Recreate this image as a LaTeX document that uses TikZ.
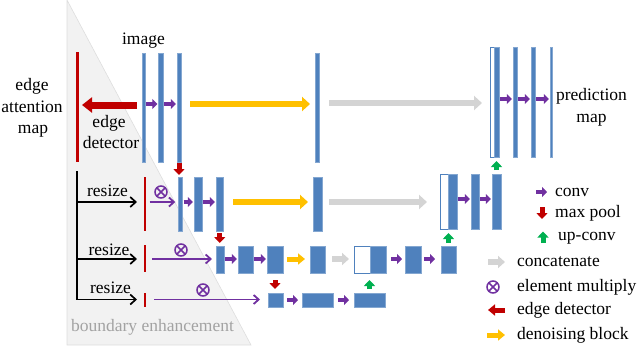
\documentclass[tikz,border=0pt]{standalone}
\usepackage{fontspec}
\setmainfont{Liberation Serif}
\usetikzlibrary{arrows.meta}
\definecolor{barblue}{HTML}{4F81BD}
\definecolor{cpurple}{HTML}{7030A0}
\definecolor{cred}{HTML}{C00000}
\definecolor{cyellow}{HTML}{FFC000}
\definecolor{cgrey}{HTML}{D4D4D4}
\definecolor{cgreen}{HTML}{00B050}
\definecolor{trifill}{HTML}{F2F2F2}
\definecolor{triline}{HTML}{DDDDDD}
\definecolor{btext}{HTML}{A3A3A3}
\newcommand\mybar[5]{\node[bar,minimum width={#3-#2},minimum height={#5-#4}] (#1) at ({(#2+#3)/2},{(#4+#5)/2}) {};}
\newcommand\mywbox[5]{\node[wbox,minimum width={#3-#2},minimum height={#5-#4}] (#1) at ({(#2+#3)/2},{(#4+#5)/2}) {};}
\newcommand\myredbar[5]{\node[redbar,minimum width={#3-#2},minimum height={#5-#4}] (#1) at ({(#2+#3)/2},{(#4+#5)/2}) {};}
\begin{document}
\begin{tikzpicture}[x=1pt,y=-1pt,
  txt/.style={font=\fontsize{17.5}{21}\selectfont, inner sep=0pt},
  bar/.style={rectangle, fill=barblue, draw=barblue!70!white, line width=0.5pt, inner sep=0pt, outer sep=0pt},
  wbox/.style={rectangle, fill=white, draw=barblue, line width=0.7pt, inner sep=0pt, outer sep=0pt},
  redbar/.style={rectangle, fill=cred, draw=none, inner sep=0pt, outer sep=0pt},
  conv/.style={draw=cpurple, line width=4.5pt, -{Triangle[length=5pt,width=10pt]}, shorten <=1pt, shorten >=1.2pt},
  pool/.style={draw=cred, line width=5pt, -{Triangle[length=6pt,width=11pt]}},
  upconv/.style={draw=cgreen, line width=5pt, -{Triangle[length=6pt,width=11pt]}},
  denoise/.style={draw=cyellow, line width=6pt, -{Triangle[length=8pt,width=14pt]}},
  denoisesm/.style={draw=cyellow, line width=5pt, -{Triangle[length=7pt,width=11pt]}},
  concat/.style={draw=cgrey, line width=6pt, -{Triangle[length=8pt,width=14pt]}},
  concatsm/.style={draw=cgrey, line width=5.5pt, -{Triangle[length=7pt,width=12pt]}},
  edgearr/.style={draw=cred, line width=7pt, -{Triangle[length=10pt,width=15pt]}},
  edgearrsm/.style={draw=cred, line width=5pt, -{Triangle[length=7pt,width=11pt]}},
  mularr/.style={draw=cpurple, line width=1.8pt, -{Straight Barb[length=5pt,width=9pt]}},
  resarr/.style={draw=black, line width=1.7pt, -{Straight Barb[length=5.5pt,width=10pt]}},
  mult/.style={circle, draw=cpurple, line width=1.5pt, minimum size=12pt, inner sep=0pt,
    path picture={\draw[cpurple, line width=1.5pt] (path picture bounding box.north west) -- (path picture bounding box.south east) (path picture bounding box.north east) -- (path picture bounding box.south west);}}
]
\useasboundingbox (0,0) rectangle (640,346);
% boundary enhancement region
\fill[trifill] (67,0) -- (251,345) -- (67,345) -- cycle;
\draw[triline, line width=0.6pt] (67,0) -- (251,345) -- (67,345) -- cycle;
\node[txt, anchor=base, text=btext] (be) at (152.5,331.5) {boundary enhancement};

% texts
\node[txt, anchor=base] (timg) at (143.5,44) {image};
\node[txt, anchor=base] (ea1) at (32,90) {edge};
\node[txt, anchor=base] (ea2) at (32,112.5) {attention};
\node[txt, anchor=base] (ea3) at (33,133.5) {map};
\node[txt, anchor=base] (ed1) at (109,127.5) {edge};
\node[txt, anchor=base] (ed2) at (111,148.5) {detector};
\node[txt, anchor=base] (pm1) at (591.5,100.5) {prediction};
\node[txt, anchor=base] (pm2) at (591.5,122.5) {map};
\node[txt, anchor=base] (rs2) at (107.5,196.5) {resize};
\node[txt, anchor=base] (rs3) at (109,255) {resize};
\node[txt, anchor=base] (rs4) at (110.5,293) {resize};

% red bars
\myredbar{ra}{76}{78.5}{52}{162}
\myredbar{r2}{143.5}{146}{177}{231}
\myredbar{r3}{143.5}{146}{245}{272}
\myredbar{r4}{143.5}{146}{293}{307}

% level 1
\mybar{e1a}{142.5}{145}{53}{162}
\mybar{e1b}{158.5}{163}{53}{162}
\mybar{e1c}{177}{181}{53}{162}
\mybar{e1d}{315.5}{319.5}{53}{162}
\mywbox{d1w}{490}{494.5}{47}{157}
\mybar{d1a}{494.5}{499}{47}{157}
\mybar{d1b}{513}{517}{47}{157}
\mybar{d1c}{531}{535}{47}{157}
\mybar{d1d}{550}{552.5}{47}{157}
% level 2
\mybar{e2a}{178.3}{182.7}{177}{231}
\mybar{e2b}{194}{202}{177}{231}
\mybar{e2c}{216}{223.5}{177}{231}
\mybar{e2d}{313}{322}{177}{231}
\mywbox{d2w}{440}{448}{174}{229}
\mybar{d2a}{448}{457}{174}{229}
\mybar{d2b}{471}{479}{174}{229}
\mybar{d2c}{492}{501}{174}{229}
% level 3
\mybar{e3a}{216}{224}{246}{273}
\mybar{e3b}{238}{253}{246}{273}
\mybar{e3c}{267}{283}{246}{273}
\mybar{e3d}{310}{325}{246}{273}
\mywbox{d3w}{354}{370}{246}{273}
\mybar{d3a}{370}{386}{246}{273}
\mybar{d3b}{405}{421}{246}{273}
\mybar{d3c}{441}{456}{246}{273}
% level 4
\mybar{e4a}{268}{283}{293}{307}
\mybar{e4b}{302}{333}{293}{307}
\mybar{d4}{354}{385}{293}{307}

% level 1 arrows
\draw[conv] (e1a.east |- 0,104) -- (e1b.west |- 0,104);
\draw[conv] (e1b.east |- 0,104) -- (e1c.west |- 0,104);
\draw[denoise, shorten <=9pt, shorten >=5.5pt] (e1c.east |- 0,104) -- (e1d.west |- 0,104);
\draw[concat, shorten <=9.5pt, shorten >=8pt] (e1d.east |- 0,103) -- (d1w.west |- 0,103);
\draw[conv] (d1a.east |- 0,99) -- (d1b.west |- 0,99);
\draw[conv] (d1b.east |- 0,99) -- (d1c.west |- 0,99);
\draw[conv] (d1c.east |- 0,99) -- (d1d.west |- 0,99);
\draw[edgearr, shorten <=5.5pt, shorten >=3.5pt] (e1a.west |- 0,105) -- (ra.east |- 0,105);
\draw[pool, shorten <=1pt, shorten >=2pt] (e1c.south) -- (e1c.south |- e2a.north);

% level 2 arrows
\draw[mularr, shorten <=3.5pt, shorten >=3pt] (r2.east |- 0,202) -- (e2a.west |- 0,202);
\node[mult] (m2) at (161,192) {};
\draw[conv] (e2a.east |- 0,202) -- (e2b.west |- 0,202);
\draw[conv] (e2b.east |- 0,202) -- (e2c.west |- 0,202);
\draw[denoise, shorten <=9.5pt, shorten >=5pt] (e2c.east |- 0,202) -- (e2d.west |- 0,202);
\draw[concat, shorten <=7pt, shorten >=13pt] (e2d.east |- 0,202) -- (d2w.west |- 0,202);
\draw[conv] (d2a.east |- 0,199) -- (d2b.west |- 0,199);
\draw[conv] (d2b.east |- 0,199) -- (d2c.west |- 0,199);
\draw[upconv, shorten <=4pt, shorten >=4pt] (d2c.north) -- (d2c.north |- d1a.south);
\draw[pool, shorten <=2pt, shorten >=3pt] (e2c.south) -- (e2c.south |- e3a.north);

% level 3 arrows
\draw[mularr, shorten <=6pt, shorten >=4pt] (r3.east |- 0,259) -- (e3a.west |- 0,259);
\node[mult] (m3) at (181,250) {};
\draw[conv] (e3a.east |- 0,259) -- (e3b.west |- 0,259);
\draw[conv] (e3b.east |- 0,259) -- (e3c.west |- 0,259);
\draw[denoisesm, shorten <=4pt, shorten >=5pt] (e3c.east |- 0,259) -- (e3d.west |- 0,259);
\draw[concatsm, shorten <=7pt, shorten >=5pt] (e3d.east |- 0,259) -- (d3w.west |- 0,259);
\draw[conv, shorten <=5pt, shorten >=3pt] (d3a.east |- 0,259) -- (d3b.west |- 0,259);
\draw[conv, shorten <=3pt, shorten >=6pt] (d3b.east |- 0,259) -- (d3c.west |- 0,259);
\draw[upconv, shorten <=3pt, shorten >=4pt] (d3c.north) -- (d3c.north |- d2a.south);
\draw[pool, shorten <=7pt, shorten >=4pt] (e3c.south) -- (e3c.south |- e4a.north);

% level 4 arrows
\draw[mularr, shorten <=8pt, shorten >=8pt] (r4.east |- 0,299.5) -- (e4a.west |- 0,299.5);
\node[mult] (m4) at (203,290) {};
\draw[conv, shorten <=4pt, shorten >=4pt] (e4a.east |- 0,300) -- (e4b.west |- 0,300);
\draw[conv, shorten <=5pt, shorten >=5pt] (e4b.east |- 0,300) -- (d4.west |- 0,300);
\draw[upconv, shorten <=4pt, shorten >=7pt] (d4.north) -- (d4.north |- d3a.south);

% resize
\coordinate (rtop) at (77,171);
\coordinate (rbot) at (77,299.5);
\draw[line width=1.7pt] (rtop) -- (rbot);
\draw[resarr, shorten >=6.5pt] (rtop |- 0,202) -- (r2.west |- 0,202);
\draw[resarr, shorten >=6.5pt] (rtop |- 0,259) -- (r3.west |- 0,259);
\draw[resarr, shorten >=6.5pt] (rbot) -- (r4.west |- rbot);

% legend
\node[txt, anchor=base west] (lconv) at (555,196.5) {conv};
\node[txt, anchor=base west] (lpool) at (555,217) {max pool};
\node[txt, anchor=base west] (lup) at (558,240.5) {up-conv};
\node[txt, anchor=base west] (lcat) at (517,266.5) {concatenate};
\node[txt, anchor=base west] (lmul) at (517,291.5) {element multiply};
\node[txt, anchor=base west] (led) at (517,314.5) {edge detector};
\node[txt, anchor=base west] (lden) at (517,339.5) {denoising block};
\coordinate (c1a) at (536,192); \coordinate (c1b) at (547,192);
\draw[conv, shorten <=0pt, shorten >=0pt] (c1a) -- (c1b);
\coordinate (c2a) at (542,207); \coordinate (c2b) at (542,219);
\draw[pool] (c2a) -- (c2b);
\coordinate (c3a) at (543,243); \coordinate (c3b) at (543,231.5);
\draw[upconv] (c3a) -- (c3b);
\coordinate (c4a) at (488,262); \coordinate (c4b) at (505,262);
\draw[concatsm] (c4a) -- (c4b);
\node[mult] (lm) at (493,287) {};
\coordinate (c5a) at (505,310); \coordinate (c5b) at (488,310);
\draw[edgearrsm] (c5a) -- (c5b);
\coordinate (c6a) at (487,335); \coordinate (c6b) at (505,335);
\draw[denoisesm] (c6a) -- (c6b);
\end{tikzpicture}
\end{document}
